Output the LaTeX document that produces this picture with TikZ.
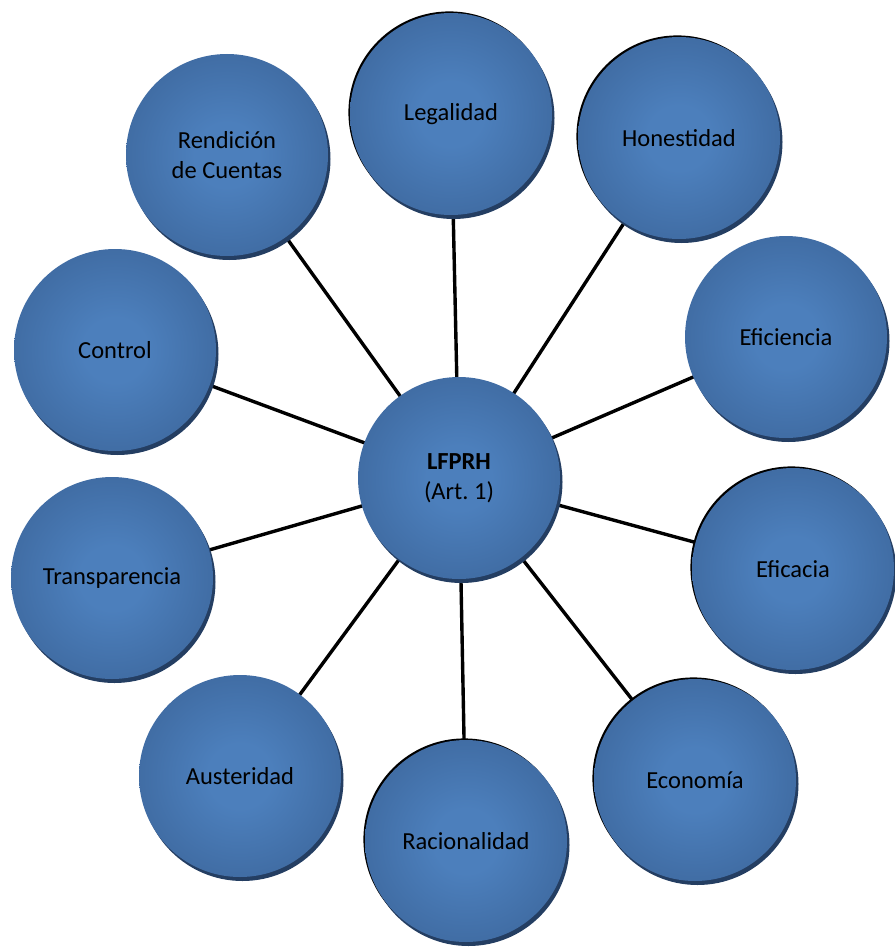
\documentclass[tikz,border=0pt]{standalone}
\usepackage{fontspec}
\setmainfont{Carlito}
\usetikzlibrary{backgrounds}
\definecolor{ballin}{RGB}{76,127,188}
\definecolor{ballmid}{RGB}{64,108,163}
\definecolor{ballout}{RGB}{55,93,142}
\definecolor{ballsh}{RGB}{36,62,98}
\pgfdeclareradialshading{ballshade}{\pgfpoint{0bp}{0bp}}{color(0bp)=(ballin); color(8bp)=(ballin); color(26bp)=(ballmid); color(42bp)=(ballout); color(50bp)=(ballout)}
\tikzset{
  ball/.style={circle, minimum size=202pt, inner sep=0pt, shading=ballshade,
    font=\fontsize{24.5}{30}\selectfont, align=center, text=black,
    preaction={fill=ballsh, transform canvas={shift={(2.5pt,-4pt)}}}},
  jag/.style={preaction={fill=black, transform canvas={shift={(-1.6pt,1.6pt)}}}},
  spoke/.style={line width=3.4pt, draw=black}
}
\begin{document}
\begin{tikzpicture}[x=1pt,y=-1pt]
\useasboundingbox (0,0) rectangle (894,950);
\node[ball] (c) at (459,478) {\textbf{LFPRH}\\(Art.~1)};
\node[ball,jag] (leg) at (451,114) {Legalidad};
\node[ball,jag] (hon) at (679,138) {Honestidad};
\node[ball] (efi) at (786,337) {Eficiencia};
\node[ball,jag] (efc) at (793,569) {Eficacia};
\node[ball,jag] (eco) at (695,780) {Econom\'{\i}a};
\node[ball,jag] (rac) at (466,841) {Racionalidad};
\node[ball] (aus) at (240,776) {Austeridad};
\node[ball] (tra) at (112,578) {Transparencia};
\node[ball] (con) at (115,350) {Control};
\node[ball] (ren) at (227,155) {Rendici\'on\\de Cuentas};
\begin{scope}[on background layer]
\foreach \n in {leg,hon,efi,efc,eco,rac,aus,tra,con,ren}
  \draw[spoke] (c.center) -- (\n.center);
\end{scope}
\end{tikzpicture}
\end{document}
